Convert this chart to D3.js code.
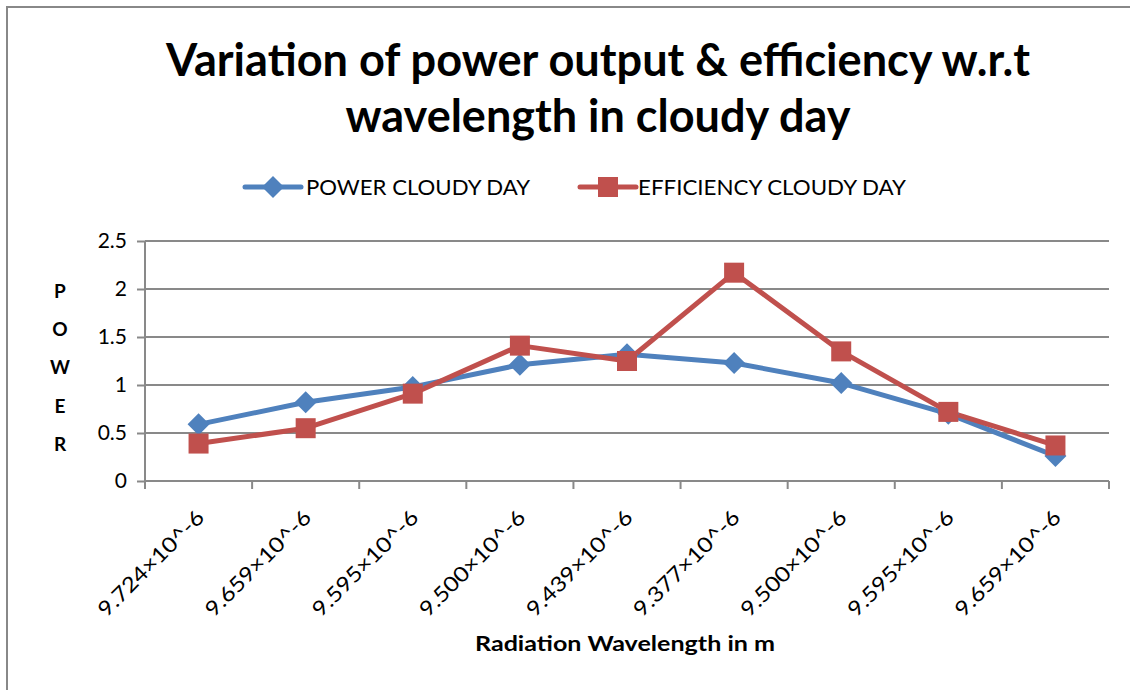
<!DOCTYPE html>
<html><head><meta charset="utf-8">
<script src="https://cdn.jsdelivr.net/npm/d3@7"></script>
<style>body{margin:0;background:#fff}svg{display:block}</style>
</head><body><svg id="c" width="1130" height="690"></svg>
<script>
const categories = ["9.724×10^-6","9.659×10^-6","9.595×10^-6","9.500×10^-6","9.439×10^-6","9.377×10^-6","9.500×10^-6","9.595×10^-6","9.659×10^-6"];
const powerCloudy = [0.59,0.82,0.98,1.21,1.32,1.23,1.02,0.70,0.26];
const efficiencyCloudy = [0.39,0.55,0.91,1.41,1.25,2.17,1.35,0.72,0.37];
const yTicks = [0,0.5,1,1.5,2,2.5];
const seriesNames = ["POWER CLOUDY DAY","EFFICIENCY CLOUDY DAY"];
const colors = ["#4F81BD","#C0504D"];

const svg = d3.select("#c");
const font = "Lato, 'Open Sans', sans-serif";
const grid = "#898989";
const L = 145, R = 1109, T = 241, B = 481;

svg.append("rect").attr("x",7).attr("y",7).attr("width",1300).attr("height",1000)
  .attr("fill","#fff").attr("stroke","#888").attr("stroke-width",2);

const x = d3.scaleBand().domain(d3.range(categories.length)).range([L,R]);
const y = d3.scaleLinear().domain([0,2.5]).range([B,T]);

// gridlines
svg.append("g").selectAll("line").data(yTicks.filter(d=>d>0)).join("line")
  .attr("x1",L).attr("x2",R).attr("y1",d=>y(d)).attr("y2",d=>y(d))
  .attr("stroke",grid).attr("stroke-width",2);

// y axis
const ya = svg.append("g").attr("transform",`translate(${L},0)`)
  .call(d3.axisLeft(y).tickValues(yTicks).tickSize(8).tickPadding(10).tickFormat(d=>String(d)));
ya.select(".domain").attr("stroke",grid).attr("stroke-width",2).attr("d",`M0,${T}V${B+8}`);
ya.selectAll(".tick line").attr("stroke",grid).attr("stroke-width",2);
ya.selectAll(".tick text").attr("font-family",font).attr("font-size",21).attr("fill","#000");

// x axis
const xa = svg.append("g").attr("transform",`translate(0,${B})`)
  .call(d3.axisBottom(x).tickSize(0).tickFormat(i=>categories[i]));
xa.select(".domain").attr("stroke",grid).attr("stroke-width",2).attr("d",`M${L},0H${R}`);
xa.selectAll(".tick text").attr("font-family",font).attr("font-size",21).attr("fill","#000")
  .attr("text-anchor","end").attr("dy",null).attr("y",0)
  .attr("textLength",140).attr("lengthAdjust","spacingAndGlyphs")
  .attr("transform","translate(7,38) rotate(-45)");
// x tick marks at band boundaries
svg.append("g").selectAll("line").data(d3.range(categories.length+1)).join("line")
  .attr("x1",i=>L+i*x.bandwidth()).attr("x2",i=>L+i*x.bandwidth())
  .attr("y1",B).attr("y2",B+8).attr("stroke",grid).attr("stroke-width",2);

const cx = i => x(i)+x.bandwidth()/2;
const line = d3.line().x((d,i)=>cx(i)).y(d=>y(d));

[powerCloudy, efficiencyCloudy].forEach((s,k)=>{
  svg.append("path").datum(s).attr("d",line).attr("fill","none")
    .attr("stroke",colors[k]).attr("stroke-width",5).attr("stroke-linejoin","round");
});
// markers
const diamond = (g,cxv,cyv,r)=>g.append("path").attr("d",`M${cxv},${cyv-r}L${cxv+r},${cyv}L${cxv},${cyv+r}L${cxv-r},${cyv}Z`).attr("fill",colors[0]);
const square = (g,cxv,cyv,h)=>g.append("rect").attr("x",cxv-h).attr("y",cyv-h).attr("width",2*h).attr("height",2*h).attr("fill",colors[1]);
const mg = svg.append("g");
powerCloudy.forEach((v,i)=>diamond(mg,cx(i),y(v),11));
efficiencyCloudy.forEach((v,i)=>square(mg,cx(i),y(v),10));

// title
const title = ["Variation of power output & efficiency w.r.t","wavelength in cloudy day"];
const tw = [864, 505];
title.forEach((t,i)=>{
  svg.append("text").attr("x",598).attr("y",76+i*56).attr("text-anchor","middle")
    .attr("font-family",font).attr("font-weight","bold").attr("font-size",46)
    .attr("textLength",tw[i]).attr("lengthAdjust","spacingAndGlyphs").text(t);
});

// legend
const legend = [{lx:245, tx:306, w:224},{lx:580, tx:638, w:268}];
legend.forEach((l,k)=>{
  const g = svg.append("g");
  g.append("line").attr("x1",l.lx).attr("x2",l.lx+56).attr("y1",187).attr("y2",187)
    .attr("stroke",colors[k]).attr("stroke-width",5).attr("stroke-linecap","round");
  if(k===0) diamond(g,l.lx+28,187,11); else square(g,l.lx+28,187,10);
  g.append("text").attr("x",l.tx).attr("y",195).attr("font-family",font).attr("font-size",22)
    .attr("textLength",l.w).attr("lengthAdjust","spacingAndGlyphs").text(seriesNames[k]);
});

// axis titles
svg.append("text").attr("x",625).attr("y",651).attr("text-anchor","middle")
  .attr("font-family",font).attr("font-weight","bold").attr("font-size",20)
  .attr("textLength",300).attr("lengthAdjust","spacingAndGlyphs").text("Radiation Wavelength in m");
const yl = ["P","O","W","E","R"];
svg.append("g").selectAll("text").data(yl).join("text")
  .attr("x",60).attr("y",(d,i)=>298+i*38.2).attr("text-anchor","middle")
  .attr("font-family",font).attr("font-weight","bold").attr("font-size",19).text(d=>d);
</script></body></html>
